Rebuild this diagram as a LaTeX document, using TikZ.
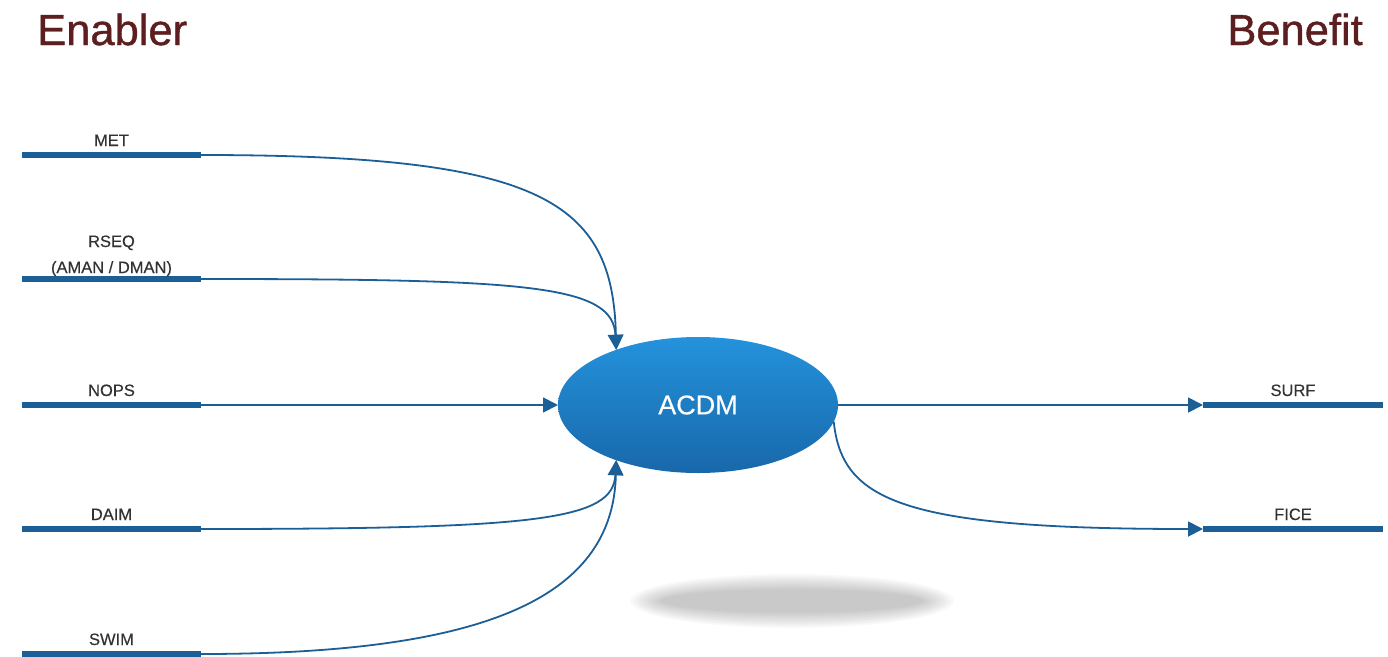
\documentclass[tikz,border=0pt]{standalone}
\usepackage{fontspec}
\setmainfont{Liberation Sans}
\newfontfamily\headfont[FakeBold=0.9]{Liberation Sans}
\newfontfamily\labelfont[FakeBold=0.3]{Liberation Sans}
\usetikzlibrary{arrows.meta,shapes.geometric}

\definecolor{flowblue}{RGB}{28,94,150}
\definecolor{headred}{RGB}{92,30,30}
\definecolor{labelgray}{RGB}{50,50,50}
\definecolor{hubtop}{RGB}{36,146,220}
\definecolor{hubbottom}{RGB}{24,104,170}

\tikzset{
  headline/.style={font=\headfont\fontsize{43.5}{48}\selectfont, text=headred, inner sep=0pt},
  barlabel/.style={font=\labelfont\fontsize{16.5}{19}\selectfont, text=labelgray, inner sep=0pt, align=center, anchor=base},
  bar/.style={draw=flowblue, line width=6pt},
  flow/.style={draw=flowblue, line width=1.8pt, -{Triangle[length=15pt,width=15pt]}},
  hub/.style={ellipse, minimum width=280pt, minimum height=136pt, inner sep=0pt, outer sep=0pt,
              top color=hubtop, bottom color=hubbottom, draw=none,
              text=white, font=\labelfont\fontsize{27}{30}\selectfont},
}

\begin{document}
\begin{tikzpicture}[x=1pt,y=-1pt]
  \useasboundingbox (0,0) rectangle (1388,656);

  % soft shadow beneath the hub
  \foreach \i in {0,...,9} {
    \fill[black, opacity=0.024] (792,601) ellipse ({162-3.5*\i} and {27-1.7*\i});
  }

  % column headings
  \node[headline, anchor=base west] (enabler) at (37,45) {Enabler};
  \node[headline, anchor=base east] (benefit) at (1363,45) {Benefit};

  % central hub
  \node[hub] (acdm) at (698,405) {ACDM};

  % enabler bars
  \foreach \name/\y in {met/155, rseq/279, nops/405, daim/529, swim/654} {
    \coordinate (\name L) at (22,\y);
    \coordinate (\name R) at (201,\y);
    \draw[bar] (\name L) -- (\name R);
  }
  % benefit bars
  \foreach \name/\y in {surf/405, fice/529} {
    \coordinate (\name L) at (1203,\y);
    \coordinate (\name R) at (1383,\y);
    \draw[bar] (\name L) -- (\name R);
  }

  % bar labels
  \node[barlabel] (metlab)  at (111.5,146) {MET};
  \node[barlabel] (rseqlab) at (111.5,247) {RSEQ};
  \node[barlabel] (manlab)  at (111.5,273) {(AMAN / DMAN)};
  \node[barlabel] (nopslab) at (111.5,396) {NOPS};
  \node[barlabel] (daimlab) at (111.5,520) {DAIM};
  \node[barlabel] (swimlab) at (111.5,645) {SWIM};
  \node[barlabel] (surflab) at (1293,396) {SURF};
  \node[barlabel] (ficelab) at (1293,520) {FICE};

  % enablers into the hub
  \draw[flow] (metR) .. controls (540,155) and (613,200) .. (acdm.146);
  \draw[flow] (rseqR) .. controls (530,279) and (613,285) .. (acdm.146);
  \draw[flow] (nopsR) -- (acdm.west);
  \draw[flow] (daimR) .. controls (540,529) and (613,520) .. (acdm.-146);
  \draw[flow] (swimR) .. controls (480,654) and (613,600) .. (acdm.-146);

  % hub out to benefits
  \draw[flow] (acdm.east) -- (surfL);
  \draw[flow] (acdm.-7) .. controls (842,500) and (900,529) .. (ficeL);
\end{tikzpicture}
\end{document}
